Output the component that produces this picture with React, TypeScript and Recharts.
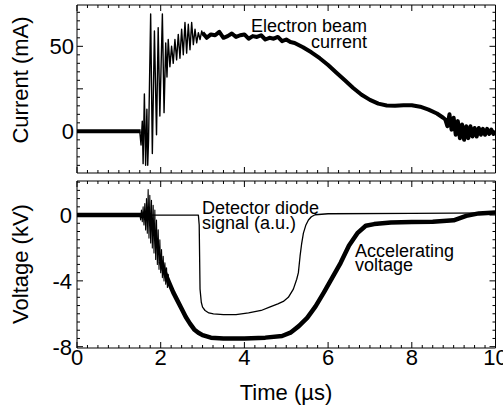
import React from 'react';
import { LineChart, Line, XAxis, YAxis } from 'recharts';

// ---- tick labels ----
const timeLabels = [0, 2, 4, 6, 8, 10];
const currentLabels = [0, 50];
const voltageLabels = [0, -4, -8];

// minor tick positions (drawn inward, box style)
const timeTicks = Array.from({ length: 41 }, (_, i) => i * 0.25);
const currentTicks = Array.from({ length: 19 }, (_, i) => -20 + i * 5);
const voltageTicks = Array.from({ length: 21 }, (_, i) => -8 + i * 0.5);

// ---- electron beam current (mA) ----
const beamBaseTime = [0, 0.5, 1.0, 1.52];
const beamBaseCurrent = [0, 0, 0, 0];

const beamRingTime = [
  1.5, 1.53, 1.56, 1.58, 1.61, 1.64, 1.67, 1.69, 1.71, 1.76, 1.8, 1.85, 1.9, 1.94, 1.98, 2.04, 2.08,
  2.12, 2.15, 2.18, 2.22, 2.26, 2.3, 2.34, 2.38, 2.42, 2.46, 2.5, 2.54, 2.58, 2.62, 2.66, 2.7, 2.74,
  2.78, 2.82, 2.86, 2.9, 2.94, 2.98, 3.02,
];
const beamRingCurrent = [
  0, -8, 6, -19, 22, -20, 13, -20, -5, 69, -13, 59, -2, 61, 9, 69, 11,
  52, 32, 54, 38, 50, 40, 54, 42, 57, 43, 60, 45, 64, 46, 63, 48, 64,
  51, 60, 52, 58, 54, 59, 56,
];

const beamMainTime = [
  3.0, 3.1, 3.2, 3.3, 3.4, 3.5, 3.6, 3.7, 3.8, 3.9, 4.0, 4.1, 4.2, 4.3, 4.4, 4.5, 4.6, 4.7, 4.8, 4.9,
  5.0, 5.1, 5.2, 5.4, 5.6, 5.8, 6.0, 6.2, 6.4, 6.6, 6.8, 7.0, 7.2, 7.4, 7.6, 7.8, 8.0, 8.2, 8.4, 8.6,
  8.75, 8.8, 8.85, 8.9, 8.95, 9.0, 9.05, 9.1, 9.15, 9.2, 9.25, 9.3, 9.35, 9.4, 9.45, 9.5, 9.55, 9.6,
  9.65, 9.7, 9.75, 9.8, 9.85, 9.9, 9.95, 10,
];
const beamMainCurrent = [
  58, 55, 57, 56.5, 58.5, 55, 56, 57.5, 55.5, 56.5, 57, 54.5, 56, 55.5, 56.5, 54, 55, 54.5, 55.5, 53,
  54, 52.5, 52, 49.5, 46.5, 43, 39, 34.5, 30, 25.5, 21.5, 18.5, 16.3, 15.2, 15, 15.3, 15.3, 14.5, 12.8, 10.5,
  8, 7, 3, 10, 1, 8, -2, 6, -4, 4, -5, 3, -4, 3, -3, 2, -3, 2,
  -2, 1.5, -2, 1.5, -1.5, 1, -1.5, 0,
];

// ---- accelerating voltage (kV) ----
const accelBaseTime = [0, 0.5, 1.0, 1.55];
const accelBaseVoltage = [0, 0, 0, 0];

const accelRingTime = [
  1.5, 1.52, 1.54, 1.56, 1.58, 1.6, 1.62, 1.64, 1.66, 1.68, 1.7, 1.72, 1.74, 1.76, 1.78, 1.8, 1.82,
  1.84, 1.86, 1.88, 1.9, 1.92, 1.94, 1.96, 1.98, 2.0, 2.02, 2.04, 2.06, 2.08, 2.1, 2.12, 2.14, 2.16,
  2.18, 2.2,
];
const accelRingVoltage = [
  0.1, -0.3, 0.3, -0.4, 0.5, -0.6, 0.7, -0.9, 1.0, -1.1, 1.55, -1.4, 1.2, -1.7, 0.9, -2.0, 0.6,
  -2.3, 0.3, -2.7, -0.3, -3.0, -0.9, -3.3, -1.5, -3.5, -2.1, -3.8, -2.5, -4.0, -2.9, -4.2, -3.2, -4.4,
  -3.6, -4.3,
];

const accelMainTime = [
  2.0, 2.1, 2.2, 2.3, 2.4, 2.5, 2.6, 2.7, 2.8, 2.9, 3.0, 3.2, 3.5, 4.0, 4.5, 4.9, 5.1, 5.3, 5.5, 5.7,
  5.9, 6.1, 6.3, 6.5, 6.7, 6.9, 7.1, 7.5, 8.0, 8.5, 9.0, 9.3, 9.6, 10,
];
const accelMainVoltage = [
  -2.8, -3.5, -4.1, -4.7, -5.2, -5.7, -6.2, -6.6, -6.95, -7.15, -7.3, -7.45, -7.5, -7.5, -7.45, -7.35,
  -7.15, -6.75, -6.25, -5.55, -4.7, -3.8, -2.9, -1.85, -1.1, -0.65, -0.55, -0.45, -0.42, -0.4, -0.32,
  -0.05, 0.1, 0.15,
];

// ---- detector diode signal (a.u.) ----
const diodeTime = [
  0, 1.0, 2.0, 2.9, 2.92, 2.94, 2.97, 3.0, 3.06, 3.15, 3.26, 3.5, 3.8, 4.1, 4.4, 4.6, 4.8, 4.93, 5.05,
  5.17, 5.25, 5.29, 5.33, 5.37, 5.41, 5.47, 5.53, 5.6, 5.69, 6.0, 8.0, 10,
];
const diodeSignal = [
  0, 0, 0, 0, -0.6, -4.5, -5.3, -5.6, -5.8, -5.95, -6.0, -6.05, -6.05, -5.95, -5.8, -5.6, -5.4, -5.25,
  -5.0, -4.5, -3.9, -3.5, -2.5, -1.7, -1.1, -0.6, -0.3, -0.1, 0.02, 0.08, 0.1, 0.13,
];

const toPoints = (ts: number[], vs: number[]) => ts.map((t, i) => ({ t, v: vs[i] }));

const FONT = '"Liberation Sans", Arial, Helvetica, sans-serif';

type Side = 'bottom' | 'top' | 'left' | 'right';

const near = (a: number, b: number) => Math.abs(a - b) < 1e-6;

const makeTick =
  (side: Side, longEvery: number, labels: number[] = [], gap = 3) =>
  (props: any) => {
    const { x, y, payload } = props;
    const v: number = payload.value;
    const r = v / longEvery;
    const len = near(r, Math.round(r)) ? 6 : 3;
    const showLabel = labels.some((l) => near(l, v));
    let x2 = x;
    let y2 = y;
    if (side === 'bottom') y2 = y - len;
    if (side === 'top') y2 = y + len;
    if (side === 'left') x2 = x + len;
    if (side === 'right') x2 = x - len;
    return (
      <g>
        <line x1={x} y1={y} x2={x2} y2={y2} stroke="#000" strokeWidth={1} />
        {showLabel && side === 'bottom' && (
          <text x={x} y={y + 17} textAnchor="middle" fontSize={22} fontFamily={FONT} fill="#000">
            {v}
          </text>
        )}
        {showLabel && side === 'left' && (
          <text x={x - gap} y={y + 8} textAnchor="end" fontSize={22} fontFamily={FONT} fill="#000">
            {v}
          </text>
        )}
      </g>
    );
  };

// axes are 1px thick so that recharts still draws them; margins make up the rest
const axisCommon = {
  type: 'number' as const,
  allowDataOverflow: true,
  interval: 0 as const,
  tickSize: 0,
  tickMargin: 0,
  axisLine: { stroke: '#000', strokeWidth: 1 },
  tickLine: false,
};

const Frame = ({
  yDomain,
  yTicks,
  yLabels,
  yLong,
  yGap,
  showTimeLabels,
}: {
  yDomain: [number, number];
  yTicks: number[];
  yLabels: number[];
  yLong: number;
  yGap: number;
  showTimeLabels: boolean;
}) => [
  <XAxis
    key="xb"
    xAxisId="b"
    orientation="bottom"
    dataKey="t"
    domain={[0, 10]}
    ticks={timeTicks}
    height={1}
    tick={makeTick('bottom', 2, showTimeLabels ? timeLabels : [])}
    {...axisCommon}
  />,
  <XAxis
    key="xt"
    xAxisId="t"
    orientation="top"
    dataKey="t"
    domain={[0, 10]}
    ticks={timeTicks}
    height={1}
    tick={makeTick('top', 2)}
    {...axisCommon}
  />,
  <YAxis
    key="yl"
    yAxisId="l"
    orientation="left"
    domain={yDomain}
    ticks={yTicks}
    width={1}
    tick={makeTick('left', yLong, yLabels, yGap)}
    {...axisCommon}
  />,
  <YAxis
    key="yr"
    yAxisId="r"
    orientation="right"
    domain={yDomain}
    ticks={yTicks}
    width={1}
    tick={makeTick('right', yLong)}
    {...axisCommon}
  />,
];

const lineProps = {
  xAxisId: 'b',
  yAxisId: 'l',
  dataKey: 'v',
  type: 'linear' as const,
  stroke: '#000',
  dot: false,
  activeDot: false,
  isAnimationActive: false,
  strokeLinejoin: 'round' as const,
};

export default function App() {
  return (
    <div
      style={{
        position: 'absolute',
        left: 0,
        top: 0,
        width: 503,
        height: 412,
        background: '#fff',
        fontFamily: FONT,
      }}
    >
      <div style={{ position: 'absolute', left: 0, top: 0 }}>
        <LineChart width={503} height={180} margin={{ top: 4, right: 6.5, bottom: 6, left: 76 }}>
          {Frame({
            yDomain: [-24.5, 74.3],
            yTicks: currentTicks,
            yLabels: currentLabels,
            yLong: 25,
            yGap: 3,
            showTimeLabels: false,
          })}
          <Line {...lineProps} data={toPoints(beamBaseTime, beamBaseCurrent)} strokeWidth={4} />
          <Line {...lineProps} data={toPoints(beamRingTime, beamRingCurrent)} strokeWidth={1.4} />
          <Line {...lineProps} data={toPoints(beamMainTime, beamMainCurrent)} strokeWidth={4} />
        </LineChart>
      </div>
      <div style={{ position: 'absolute', left: 0, top: 180 }}>
        <LineChart width={503} height={232} margin={{ top: 0, right: 6.5, bottom: 63, left: 76 }}>
          {Frame({
            yDomain: [-8.08, 2.07],
            yTicks: voltageTicks,
            yLabels: voltageLabels,
            yLong: 4,
            yGap: 5,
            showTimeLabels: true,
          })}
          <Line {...lineProps} data={toPoints(accelBaseTime, accelBaseVoltage)} strokeWidth={4.5} />
          <Line {...lineProps} data={toPoints(accelRingTime, accelRingVoltage)} strokeWidth={1.1} />
          <Line {...lineProps} data={toPoints(accelMainTime, accelMainVoltage)} strokeWidth={4.5} />
          <Line {...lineProps} data={toPoints(diodeTime, diodeSignal)} strokeWidth={1.3} />
        </LineChart>
      </div>
      <svg
        width={503}
        height={412}
        style={{ position: 'absolute', left: 0, top: 0, pointerEvents: 'none' }}
        fontFamily={FONT}
        fill="#000"
      >
        <text transform="translate(28,80) rotate(-90)" textAnchor="middle" fontSize={22}>
          Current (mA)
        </text>
        <text transform="translate(28,264) rotate(-90)" textAnchor="middle" fontSize={22}>
          Voltage (kV)
        </text>
        <text x={286} y={400} textAnchor="middle" fontSize={22}>
          Time (µs)
        </text>
        <text x={367} y={31.5} textAnchor="end" fontSize={18}>
          Electron beam
        </text>
        <text x={367} y={48} textAnchor="end" fontSize={18}>
          current
        </text>
        <text x={202} y={214} fontSize={18}>
          Detector diode
        </text>
        <text x={202} y={229} fontSize={18}>
          signal (a.u.)
        </text>
        <text x={355} y={257} fontSize={18}>
          Accelerating
        </text>
        <text x={355} y={271} fontSize={18}>
          voltage
        </text>
      </svg>
    </div>
  );
}
